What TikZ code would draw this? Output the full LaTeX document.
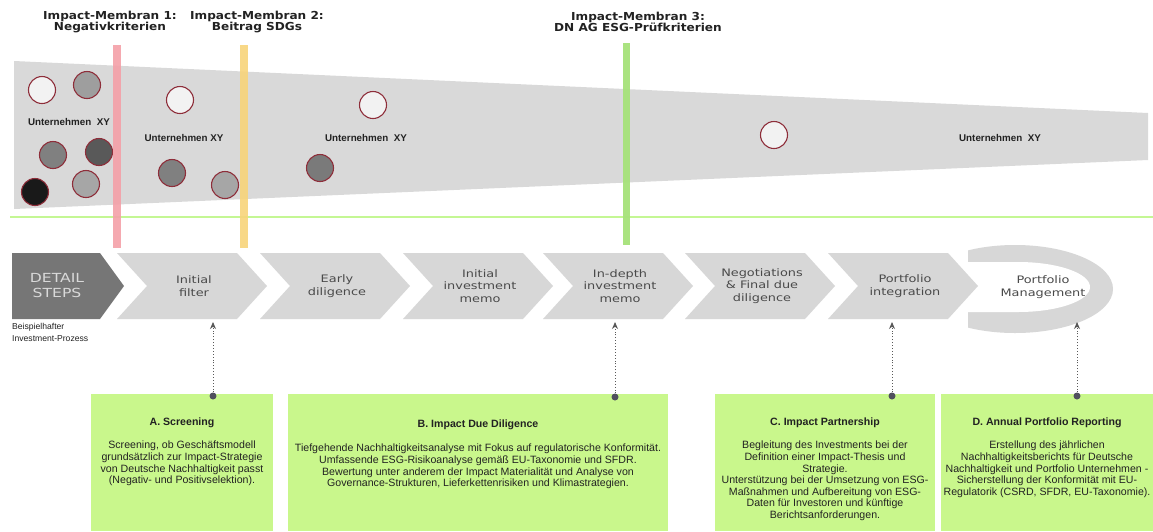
\documentclass[tikz,border=0pt]{standalone}
\usepackage{fontspec}
\setmainfont{Liberation Sans}
\newfontfamily\dvs[FakeStretch=1.25]{DejaVu Sans}
\newfontfamily\dvsb[FakeStretch=1.1]{DejaVu Sans Bold}
\usetikzlibrary{arrows.meta}
\definecolor{funnelgray}{HTML}{D9D9D9}
\definecolor{chevgray}{HTML}{D7D7D7}
\definecolor{darkstep}{HTML}{767676}
\definecolor{memred}{HTML}{F4A0A8}
\definecolor{memyellow}{HTML}{F8D47A}
\definecolor{memgreen}{HTML}{A6E27A}
\definecolor{lineg}{HTML}{C4F794}
\definecolor{boxgreen}{HTML}{C9F78C}
\definecolor{ringred}{HTML}{8E2E3A}
\definecolor{txtdark}{HTML}{222222}
\definecolor{chevtxt}{HTML}{4A4A4A}
\definecolor{pincol}{HTML}{50505E}
\tikzset{
  company/.style={circle, draw=ringred, line width=1.1pt, minimum size=27pt, inner sep=0pt},
  uxy/.style={font=\bfseries\fontsize{9.8}{11}\selectfont, text=txtdark, inner sep=0pt},
  memlabel/.style={font=\dvsb\fontsize{11}{11.5}\selectfont, align=center, text=txtdark, inner sep=0pt},
  chevlabel/.style={font=\dvs\fontsize{10.3}{12.7}\selectfont, align=center, text=chevtxt, inner sep=0pt},
  greenbox/.style={fill=boxgreen, draw=none, anchor=north west, inner sep=0pt},
  boxtitle/.style={font=\bfseries\fontsize{10.6}{12}\selectfont, text=txtdark, inner sep=0pt},
  boxbody/.style={font=\fontsize{10.6}{11.6}\selectfont, align=center, text=txtdark, inner sep=0pt, anchor=north},
  pin/.style={circle, fill=pincol, minimum size=7pt, inner sep=0pt},
  link/.style={draw=black!65, dotted, line width=0.9pt, -{Stealth[length=7pt,width=6pt]}},
}
\begin{document}
\begin{tikzpicture}[x=1pt,y=-1pt]
\useasboundingbox[fill=white] (0,0) rectangle (1153,531);

% funnel
\fill[funnelgray] (14,61) -- (1148,113) -- (1148,160) -- (14,209) -- cycle;

% green horizontal line
\draw[lineg, line width=2pt] (10,217) -- (1153,217);

% companies
\node[company, fill=white!95!black] (k1) at (42,90) {};
\node[company, fill=black!38] (k2) at (87,85) {};
\node[company, fill=black!50] (k3) at (53,155) {};
\node[company, fill=black!65] (k4) at (99,152) {};
\node[company, fill=black!90] (k5) at (35,192) {};
\node[company, fill=black!35] (k6) at (86,184) {};
\node[company, fill=white!95!black] (k7) at (180,100) {};
\node[company, fill=black!50] (k8) at (172,173) {};
\node[company, fill=black!35] (k9) at (225,185) {};
\node[company, fill=white!95!black] (k10) at (373,105) {};
\node[company, fill=black!52] (k11) at (320,168) {};
\node[company, fill=white!95!black] (k12) at (774,135) {};

\node[uxy] (u1) at (69,122) {Unternehmen\ \ XY};
\node[uxy] (u2) at (184,138) {Unternehmen XY};
\node[uxy] (u3) at (366,138) {Unternehmen\ \ XY};
\node[uxy] (u4) at (1000,138) {Unternehmen\ \ XY};

% membranes
\fill[memred, opacity=0.9] (113,45) rectangle (121,248);
\fill[memyellow, opacity=0.9] (240,45) rectangle (248,248);
\fill[memgreen, opacity=0.95] (623,43) rectangle (630,245);

\node[memlabel] (m1) at (110,22) {Impact-Membran 1:\\Negativkriterien};
\node[memlabel] (m2) at (257,22) {Impact-Membran 2:\\Beitrag SDGs};
\node[memlabel] (m3) at (638,22) {Impact-Membran 3:\\DN AG ESG-Prüfkriterien};

% portfolio management ring
\begin{scope}
  \clip (968,235) rectangle (1125,340);
  \fill[chevgray] (1015,289) ellipse [x radius=98, y radius=44];
\end{scope}
\fill[white] (955,262) -- (1018,262) arc[start angle=-90, end angle=90, x radius=72, y radius=25] -- (955,312) -- cycle;
\node[chevlabel] (c8) at (1043,287) {Portfolio\\Management};

% detail steps
\fill[darkstep] (12,253) -- (100,253) -- (124,286) -- (100,319) -- (12,319) -- cycle;
\node[font=\dvs\fontsize{12.5}{15}\selectfont, align=center, text=white!85!black, inner sep=0pt] (c1) at (57,286) {DETAIL\\STEPS};
\node[font=\fontsize{8.6}{12.5}\selectfont, align=left, anchor=north west, text=txtdark, inner sep=0pt] (bip) at (12,323) {Beispielhafter\\Investment-Prozess};

% chevrons
\foreach \L/\nm/\txt in {117/c2/{Initial\\filter}, 260/c3/{Early\\diligence}, 403/c4/{Initial\\investment\\memo}, 543/c5/{In-depth\\investment\\memo}, 685/c6/{Negotiations\\\& Final due\\diligence}, 828/c7/{Portfolio\\integration}}{
  \fill[chevgray] (\L,253) -- ({\L+120},253) -- ({\L+150},286) -- ({\L+120},319) -- (\L,319) -- ({\L+30},286) -- cycle;
  \node[chevlabel] (\nm) at ({\L+77},286) {\txt};
}

% green boxes
\node[greenbox, minimum width=182pt, minimum height=137pt] (boxA) at (91,394) {};
\node[greenbox, minimum width=380pt, minimum height=137pt] (boxB) at (288,394) {};
\node[greenbox, minimum width=220pt, minimum height=137pt] (boxC) at (715,394) {};
\node[greenbox, minimum width=212pt, minimum height=137pt] (boxD) at (941,394) {};

\node[boxtitle] (tA) at (182,423) {A. Screening};
\node[boxbody] (bA) at (182,441) {Screening, ob Geschäftsmodell\\grundsätzlich zur Impact-Strategie\\von Deutsche Nachhaltigkeit passt\\(Negativ- und Positivselektion).};

\node[boxtitle] (tB) at (478,425) {B. Impact Due Diligence};
\node[boxbody] (bB) at (478,444) {Tiefgehende Nachhaltigkeitsanalyse mit Fokus auf regulatorische Konformität.\\Umfassende ESG-Risikoanalyse gemäß EU-Taxonomie und SFDR.\\Bewertung unter anderem der Impact Materialität und Analyse von\\Governance-Strukturen, Lieferkettenrisiken und Klimastrategien.};

\node[boxtitle] (tC) at (825,423) {C. Impact Partnership};
\node[boxbody] (bC) at (825,441) {Begleitung des Investments bei der\\Definition einer Impact-Thesis und\\Strategie.\\Unterstützung bei der Umsetzung von ESG-\\Maßnahmen und Aufbereitung von ESG-\\Daten für Investoren und künftige\\Berichtsanforderungen.};

\node[boxtitle] (tD) at (1047,423) {D. Annual Portfolio Reporting};
\node[boxbody] (bD) at (1047,441) {Erstellung des jährlichen\\Nachhaltigkeitsberichts für Deutsche\\Nachhaltigkeit und Portfolio Unternehmen -\\Sicherstellung der Konformität mit EU-\\Regulatorik (CSRD, SFDR, EU-Taxonomie).};

% pins and dotted links
\node[pin] (pA) at (213,396) {};
\node[pin] (pB) at (615,397) {};
\node[pin] (pC) at (892,396) {};
\node[pin] (pD) at (1077,396) {};
\coordinate (aA) at (213,322);
\coordinate (aB) at (615,322);
\coordinate (aC) at (892,322);
\coordinate (aD) at (1077,322);
\draw[link] (pA) -- (aA);
\draw[link] (pB) -- (aB);
\draw[link] (pC) -- (aC);
\draw[link] (pD) -- (aD);
\end{tikzpicture}
\end{document}
